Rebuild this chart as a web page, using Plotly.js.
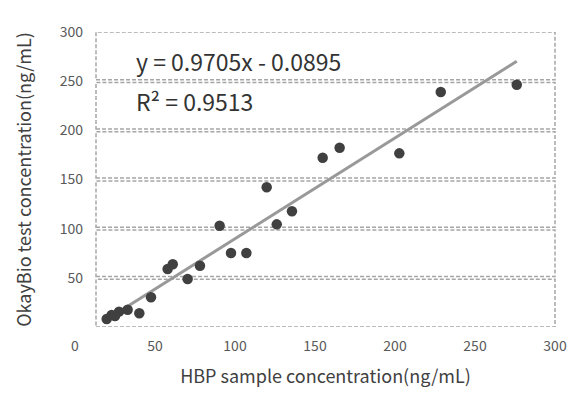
<!DOCTYPE html>
<html>
<head>
<meta charset="utf-8">
<script src="https://cdn.plot.ly/plotly-3.0.1.min.js"></script>
<style>html,body{margin:0;padding:0;background:#fff;}#chart{width:585px;height:398px;}</style>
</head>
<body>
<div id="chart"></div>
<script>
// HBP sample concentration (ng/mL) vs OkayBio test concentration (ng/mL)
const hbp  = [19.8, 22.9, 25.0, 27.5, 32.9, 40.2, 47.5, 57.9, 61.1, 70.4, 78.1, 90.4, 97.5, 107.1, 119.8, 126.1, 135.6, 154.8, 165.4, 202.7, 228.6, 276.1];
const okay = [8.1, 12.2, 11.2, 15.6, 17.6, 13.9, 30.2, 59.0, 63.8, 48.8, 62.3, 103.0, 75.3, 75.3, 142.1, 104.4, 117.7, 172.2, 182.3, 176.6, 239.0, 246.4];
// trend line end points as drawn in the picture
const trendX = [19.8, 276.1];
const trendY = [7.6, 270.2];
const xTicks = [50, 100, 150, 200, 250, 300];
const yTicks = [50, 100, 150, 200, 250, 300];
const bandEdges = [0, 50, 100, 150, 200, 250, 300];
const originLabel = "0";
const equationText = "y = 0.9705x - 0.0895";
const r2Text = "R² = 0.9513";

const FONT = "Noto Sans CJK SC, Noto Sans, sans-serif";
const gap = 1.4;
const shapes = [];
for (let i = 0; i < bandEdges.length - 1; i++) {
  shapes.push({
    type: 'rect', xref: 'x domain', yref: 'y',
    x0: 0, x1: 1,
    y0: bandEdges[i] + (i > 0 ? gap : 0),
    y1: bandEdges[i + 1] - (i < bandEdges.length - 2 ? gap : 0),
    line: {color: '#a6a6a6', width: 1.5, dash: '4px,2px'},
    fillcolor: 'rgba(0,0,0,0)', layer: 'below'
  });
}

const traces = [
  {x: trendX, y: trendY, mode: 'lines', type: 'scatter',
   line: {color: '#999999', width: 3}, hoverinfo: 'skip', showlegend: false},
  {x: hbp, y: okay, mode: 'markers', type: 'scatter',
   marker: {color: '#404040', size: 10.5}, showlegend: false}
];

const layout = {
  width: 585, height: 398,
  margin: {l: 40, r: 30, t: 32, b: 71},
  paper_bgcolor: '#ffffff', plot_bgcolor: '#ffffff',
  font: {family: FONT, color: '#595959', size: 14},
  showlegend: false,
  xaxis: {
    domain: [0.10874, 1], range: [13.125, 300],
    tickvals: xTicks, ticktext: xTicks.map(String),
    showgrid: false, zeroline: false, showline: false,
    ticks: 'outside', ticklen: 6, tickcolor: 'rgba(0,0,0,0)',
    tickfont: {family: FONT, size: 14, color: '#595959'},
    title: {text: 'HBP sample concentration(ng/mL)', standoff: 16,
            font: {family: FONT, size: 18, color: '#404040'}}
  },
  yaxis: {
    range: [0, 300], anchor: 'free', position: 0.0835,
    tickvals: yTicks, ticktext: yTicks.map(String),
    showgrid: false, zeroline: false, showline: false,
    ticks: '',
    tickfont: {family: FONT, size: 14, color: '#595959'},
    title: {text: 'OkayBio test concentration(ng/mL)', standoff: 22,
            font: {family: FONT, size: 18, color: '#404040'}}
  },
  shapes: shapes,
  annotations: [
    {text: originLabel, xref: 'paper', yref: 'paper', x: (75 - 40) / 515, y: (327 - 345) / 295, showarrow: false,
     xanchor: 'center', yanchor: 'middle', font: {family: FONT, size: 14, color: '#595959'}},
    {text: equationText, xref: 'paper', yref: 'paper', x: (134 - 40) / 515, y: (327 - 61) / 295,
     xanchor: 'left', yanchor: 'middle', showarrow: false,
     font: {family: FONT, size: 23, color: '#333333'}},
    {text: r2Text, xref: 'paper', yref: 'paper', x: (134 - 40) / 515, y: (327 - 101) / 295,
     xanchor: 'left', yanchor: 'middle', showarrow: false,
     font: {family: FONT, size: 23, color: '#333333'}}
  ]
};

Plotly.newPlot('chart', traces, layout, {displayModeBar: false, staticPlot: true});
</script>
</body>
</html>
